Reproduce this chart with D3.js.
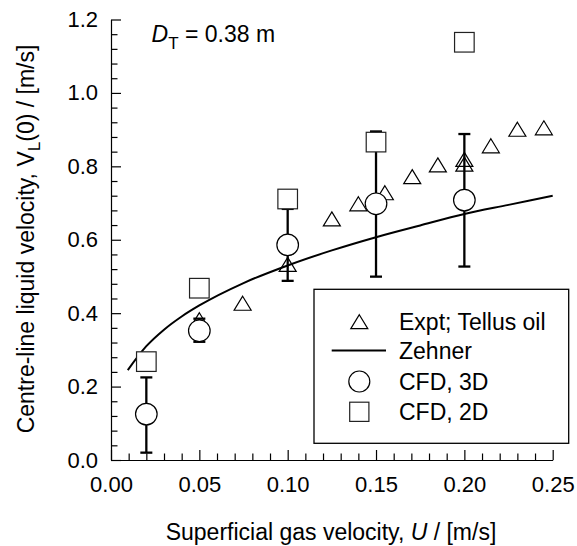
<!DOCTYPE html>
<html><head><meta charset="utf-8">
<script src="https://cdn.jsdelivr.net/npm/d3@7"></script>
<style>
html,body{margin:0;padding:0;background:#fff;}
text{font-family:"Liberation Sans",Arial,sans-serif;fill:#000;}
</style></head>
<body><svg id="c" width="577" height="546"></svg>
<script>
// ---- data ----
const exptU = [0.05, 0.0745, 0.100, 0.125, 0.140, 0.155, 0.1705, 0.185, 0.200, 0.200, 0.215, 0.230, 0.245];
const exptV = [0.382, 0.427, 0.533, 0.657, 0.698, 0.728, 0.772, 0.804, 0.806, 0.819, 0.856, 0.901, 0.905];
const zehnerU = [0.0095, 0.02, 0.03, 0.04, 0.05, 0.075, 0.10, 0.125, 0.15, 0.175, 0.20, 0.225, 0.25];
const zehnerV = [0.245, 0.310, 0.355, 0.391, 0.421, 0.482, 0.530, 0.571, 0.607, 0.639, 0.670, 0.695, 0.720];
const cfdU = [0.02, 0.05, 0.10, 0.15, 0.20];
const cfd3dV = [0.125, 0.352, 0.586, 0.698, 0.708];
const cfd3dLow = [0.020, 0.322, 0.488, 0.4995, 0.527];
const cfd3dHigh = [0.225, 0.385, 0.684, 0.895, 0.888];
const cfd2dV = [0.268, 0.468, 0.711, 0.866, 1.138];
const xMajorTicks = [0, 0.05, 0.10, 0.15, 0.20, 0.25];
const yMajorTicks = [0, 0.2, 0.4, 0.6, 0.8, 1.0, 1.2];
const legendLabels = ["Expt; Tellus oil", "Zehner", "CFD, 3D", "CFD, 2D"];

const svg = d3.select("#c");
const x = d3.scaleLinear().domain([0, 0.25]).range([111, 552.7]);
const y = d3.scaleLinear().domain([0, 1.2]).range([460, 19.5]);

const xMinor = d3.range(0, 0.2501, 0.01).filter(v => Math.abs(v/0.05 - Math.round(v/0.05)) > 1e-6);
const yMinor = d3.range(0, 1.2001, 0.04).filter(v => Math.abs(v/0.2 - Math.round(v/0.2)) > 1e-6);

// axes
const gx = svg.append("g").attr("transform", "translate(0,460)");
gx.call(d3.axisBottom(x).tickValues(xMajorTicks).tickSizeInner(-10).tickSizeOuter(0).tickPadding(16.7).tickFormat(d3.format(".2f")));
const gxm = svg.append("g").attr("transform", "translate(0,460)");
gxm.call(d3.axisBottom(x).tickValues(xMinor).tickSizeInner(-6.5).tickSizeOuter(0).tickFormat(""));
gxm.select(".domain").remove();

const gy = svg.append("g").attr("transform", "translate(111,0)");
gy.call(d3.axisLeft(y).tickValues(yMajorTicks).tickSizeInner(-10).tickSizeOuter(0).tickPadding(13).tickFormat(d3.format(".1f")));
const gym = svg.append("g").attr("transform", "translate(111,0)");
gym.call(d3.axisLeft(y).tickValues(yMinor).tickSizeInner(-6.5).tickSizeOuter(0).tickFormat(""));
gym.select(".domain").remove();

svg.selectAll(".domain, .tick line").attr("stroke", "#000").attr("stroke-width", 1.2);
svg.selectAll(".tick text").attr("font-size", 22).attr("font-family", "Liberation Sans, Arial, sans-serif").attr("fill", "#000");

// Zehner line
const zData = zehnerU.map((u, i) => [u, zehnerV[i]]);
svg.append("path").datum(zData)
  .attr("d", d3.line().x(d => x(d[0])).y(d => y(d[1])).curve(d3.curveMonotoneX))
  .attr("fill", "none").attr("stroke", "#000").attr("stroke-width", 2);

// error bars
const eb = svg.append("g").attr("stroke", "#000").attr("stroke-width", 2.3);
cfdU.forEach((u, i) => {
  eb.append("line").attr("x1", x(u)).attr("x2", x(u)).attr("y1", y(cfd3dLow[i])).attr("y2", y(cfd3dHigh[i]));
  [cfd3dLow[i], cfd3dHigh[i]].forEach(v => {
    eb.append("line").attr("x1", x(u) - 6).attr("x2", x(u) + 6).attr("y1", y(v)).attr("y2", y(v));
  });
});

const triPath = "M0,-7L8.5,7L-8.5,7Z";
// triangles
svg.append("g").selectAll("path").data(exptU.map((u, i) => [u, exptV[i]])).join("path")
  .attr("d", triPath).attr("transform", d => `translate(${x(d[0])},${y(d[1])})`)
  .attr("fill", "none").attr("stroke", "#000").attr("stroke-width", 1.2);

// circles
svg.append("g").selectAll("circle").data(cfdU.map((u, i) => [u, cfd3dV[i]])).join("circle")
  .attr("cx", d => x(d[0])).attr("cy", d => y(d[1])).attr("r", 10.8)
  .attr("fill", "#fff").attr("stroke", "#000").attr("stroke-width", 1.2);

// squares
svg.append("g").selectAll("rect").data(cfdU.map((u, i) => [u, cfd2dV[i]])).join("rect")
  .attr("x", d => x(d[0]) - 9.8).attr("y", d => y(d[1]) - 9.8).attr("width", 19.6).attr("height", 19.6)
  .attr("fill", "#fff").attr("stroke", "#222").attr("stroke-width", 1.2);

// D_T label
const dt = svg.append("text").attr("x", 151.5).attr("y", 41.7).attr("font-size", 23);
dt.append("tspan").attr("font-style", "italic").text("D");
dt.append("tspan").attr("font-size", 17).attr("dy", 7).text("T");
dt.append("tspan").attr("dy", -7).text(" = 0.38 m");

// axis titles
const xt = svg.append("text").attr("x", 331).attr("y", 540).attr("text-anchor", "middle").attr("font-size", 23);
xt.append("tspan").text("Superficial gas velocity, ");
xt.append("tspan").attr("font-style", "italic").text("U");
xt.append("tspan").text(" / [m/s]");

const yt = svg.append("text").attr("transform", "translate(34,239) rotate(-90)").attr("text-anchor", "middle").attr("font-size", 23);
yt.append("tspan").text("Centre-line liquid velocity, V");
yt.append("tspan").attr("font-size", 17).attr("dy", 6).text("L");
yt.append("tspan").attr("dy", -6).text("(0) / [m/s]");

// legend
const lg = svg.append("g");
lg.append("rect").attr("x", 314).attr("y", 289.3).attr("width", 254.7).attr("height", 154)
  .attr("fill", "#fff").attr("stroke", "#000").attr("stroke-width", 1.3);
const rowY = [321.7, 350.5, 381.5, 411.8];
const mx = 359.3;
lg.append("path").attr("d", triPath).attr("transform", `translate(${mx},${rowY[0]})`)
  .attr("fill", "none").attr("stroke", "#000").attr("stroke-width", 1.2);
lg.append("line").attr("x1", 331.7).attr("x2", 386).attr("y1", rowY[1]).attr("y2", rowY[1])
  .attr("stroke", "#000").attr("stroke-width", 2);
lg.append("circle").attr("cx", mx).attr("cy", rowY[2]).attr("r", 10.5)
  .attr("fill", "#fff").attr("stroke", "#000").attr("stroke-width", 1.2);
lg.append("rect").attr("x", mx - 9.6).attr("y", rowY[3] - 9.6).attr("width", 19.2).attr("height", 19.2)
  .attr("fill", "#fff").attr("stroke", "#222").attr("stroke-width", 1.2);
legendLabels.forEach((t, i) => {
  lg.append("text").attr("x", 399).attr("y", rowY[i] + 8).attr("font-size", 23).text(t);
});
</script>
</body></html>
